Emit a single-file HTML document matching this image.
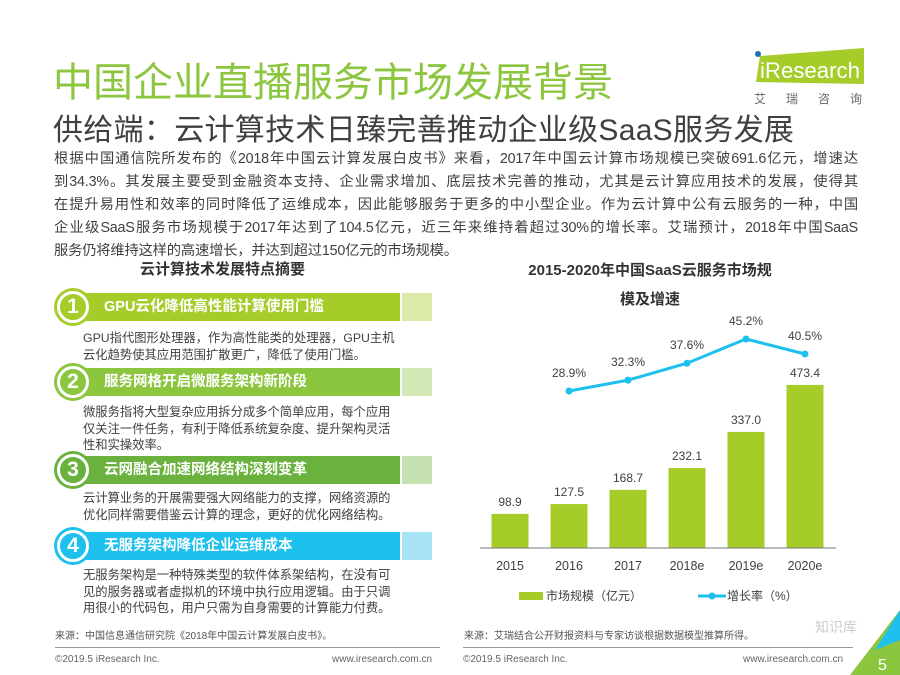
<!DOCTYPE html>
<html><head><meta charset="utf-8"><style>
body{margin:0;width:900px;height:675px;background:#fff;overflow:hidden;position:relative;font-family:"Liberation Sans","Noto Sans CJK SC",sans-serif;color:#404040}
.a{position:absolute;white-space:nowrap}
.bar{position:absolute;left:85px;width:315px;height:28px}
.sq{position:absolute;left:402px;width:30px;height:28px}
.circ{position:absolute;left:57px;width:26px;height:26px;border-radius:50%;border:3px solid #fff;font-weight:bold;font-size:21px;text-align:center;line-height:26px;color:#fff}
.bt{position:absolute;left:104px;font-size:14.5px;font-weight:bold;color:#fff;line-height:28px}
.desc{position:absolute;left:83px;font-size:12.3px;line-height:16.5px;color:#404040;white-space:nowrap}
.pl{position:absolute;left:54px;width:804px;font-size:14.3px;color:#404040;white-space:nowrap;text-align:justify;text-align-last:justify;letter-spacing:-0.2px}
</style></head><body>
<div class="a" style="left:53px;top:50px;font-size:40px;color:#8cc63f">中国企业直播服务市场发展背景</div>
<div style="position:absolute;left:752px;top:48px;width:112px;height:36px">
<svg width="112" height="36"><polygon points="8,8 112,0 112,36 4,34" fill="#a6cc2a"/><circle cx="6" cy="6" r="3" fill="#1d6fb8"/><text x="8" y="30" font-size="22" fill="#fff" font-family="Liberation Sans" textLength="100" lengthAdjust="spacingAndGlyphs">iResearch</text></svg></div>
<div class="a" style="left:754px;top:90px;font-size:12px;color:#666;letter-spacing:20px">艾瑞咨询</div>
<div class="a" style="left:53px;top:105px;font-size:30px;color:#404040;letter-spacing:0.3px">供给端：云计算技术日臻完善推动企业级SaaS服务发展</div>
<div>
<div class="pl" style="top:147px">根据中国通信院所发布的《2018年中国云计算发展白皮书》来看，2017年中国云计算市场规模已突破691.6亿元，增速达</div>
<div class="pl" style="top:170px">到34.3%。其发展主要受到金融资本支持、企业需求增加、底层技术完善的推动，尤其是云计算应用技术的发展，使得其</div>
<div class="pl" style="top:193px">在提升易用性和效率的同时降低了运维成本，因此能够服务于更多的中小型企业。作为云计算中公有云服务的一种，中国</div>
<div class="pl" style="top:216px">企业级SaaS服务市场规模于2017年达到了104.5亿元，近三年来维持着超过30%的增长率。艾瑞预计，2018年中国SaaS</div>
<div class="pl" style="top:239px;text-align-last:left;width:auto">服务仍将维持这样的高速增长，并达到超过150亿元的市场规模。</div>
</div>
<div class="a" style="left:140px;top:258px;font-size:15px;font-weight:bold;color:#333">云计算技术发展特点摘要</div>

<div class="bar" style="top:293px;background:#a6cc2a"></div><div class="sq" style="top:293px;background:#dbeaa8"></div>
<div class="circ" style="top:291px;background:#a6cc2a;box-shadow:0 0 0 3px #a6cc2a">1</div>
<div class="bt" style="top:293px">GPU云化降低高性能计算使用门槛</div>
<div class="desc" style="top:330px">GPU指代图形处理器，作为高性能类的处理器，GPU主机<br>云化趋势使其应用范围扩散更广，降低了使用门槛。</div>

<div class="bar" style="top:368px;background:#8cc63f"></div><div class="sq" style="top:368px;background:#d2e8b5"></div>
<div class="circ" style="top:366px;background:#8cc63f;box-shadow:0 0 0 3px #8cc63f">2</div>
<div class="bt" style="top:368px">服务网格开启微服务架构新阶段</div>
<div class="desc" style="top:404px">微服务指将大型复杂应用拆分成多个简单应用，每个应用<br>仅关注一件任务，有利于降低系统复杂度、提升架构灵活<br>性和实操效率。</div>

<div class="bar" style="top:456px;background:#6ab23d"></div><div class="sq" style="top:456px;background:#c6e2b0"></div>
<div class="circ" style="top:454px;background:#6ab23d;box-shadow:0 0 0 3px #6ab23d">3</div>
<div class="bt" style="top:456px">云网融合加速网络结构深刻变革</div>
<div class="desc" style="top:490px">云计算业务的开展需要强大网络能力的支撑，网络资源的<br>优化同样需要借鉴云计算的理念，更好的优化网络结构。</div>

<div class="bar" style="top:532px;background:#1ec0ee"></div><div class="sq" style="top:532px;background:#a8e4f6"></div>
<div class="circ" style="top:530px;background:#1ec0ee;box-shadow:0 0 0 3px #1ec0ee">4</div>
<div class="bt" style="top:532px">无服务架构降低企业运维成本</div>
<div class="desc" style="top:567px">无服务架构是一种特殊类型的软件体系架结构，在没有可<br>见的服务器或者虚拟机的环境中执行应用逻辑。由于只调<br>用很小的代码包，用户只需为自身需要的计算能力付费。</div>

<div class="a" style="left:490px;top:256px;width:320px;text-align:center;font-size:15px;font-weight:bold;color:#333;line-height:29px;white-space:normal">2015-2020年中国SaaS云服务市场规<br>模及增速</div>
<svg id="chart" style="position:absolute;left:0;top:0" width="900" height="675"></svg>

<div class="a" style="left:55px;top:627px;font-size:10px;color:#555">来源：中国信息通信研究院《2018年中国云计算发展白皮书》。</div>
<div class="a" style="left:464px;top:627px;font-size:10px;color:#555">来源：艾瑞结合公开财报资料与专家访谈根据数据模型推算所得。</div>
<div style="position:absolute;left:55px;top:647px;width:385px;height:1px;background:#999"></div>
<div style="position:absolute;left:463px;top:647px;width:390px;height:1px;background:#999"></div>
<div class="a" style="left:55px;top:654px;font-size:10px;color:#666">©2019.5 iResearch Inc.</div>
<div class="a" style="left:332px;top:654px;font-size:10px;color:#666">www.iresearch.com.cn</div>
<div class="a" style="left:463px;top:654px;font-size:10px;color:#666">©2019.5 iResearch Inc.</div>
<div class="a" style="left:743px;top:654px;font-size:10px;color:#666">www.iresearch.com.cn</div>
<svg style="position:absolute;left:850px;top:610px" width="50" height="65"><polygon points="50,0 50,65 0,65" fill="#8cc63f"/><polygon points="50,0 50,30 25,40" fill="#1ec0ee"/><text x="28" y="60" font-size="16" fill="#fff" font-family="Liberation Sans">5</text></svg>
<div class="a" style="left:815px;top:617px;font-size:14px;color:#ccc">知识库</div>

<script>
const years=["2015","2016","2017","2018e","2019e","2020e"];
const market=[98.9,127.5,168.7,232.1,337.0,473.4];
const growth=[null,28.9,32.3,37.6,45.2,40.5];
const svg=document.getElementById('chart');
const NS='http://www.w3.org/2000/svg';
const base=548,x0=510,dx=59,bw=37;
const xp=i=>x0+i*dx;
const yb=v=>base-v*0.3445;
const yl=v=>391-(v-28.9)*3.19;
function mk(t,a){const e=document.createElementNS(NS,t);for(const k in a)e.setAttribute(k,a[k]);svg.appendChild(e);return e;}
market.forEach((v,i)=>{
 const r=mk('rect',{x:xp(i)-bw/2,y:yb(v),width:bw,height:base-yb(v),fill:'#a6cc2a'});
 
 
 const t=mk('text',{x:xp(i),y:yb(v)-8,'text-anchor':'middle','font-size':12,fill:'#404040','font-family':'Liberation Sans'});t.textContent=v.toFixed(1);
 
 
 const y=mk('text',{x:xp(i),y:570,'text-anchor':'middle','font-size':12.5,fill:'#404040','font-family':'Liberation Sans'});y.textContent=years[i];
 
 
});
const ax=mk('line',{x1:480,x2:836,y1:548,y2:548,stroke:'#777','stroke-width':1});


let pts=[];growth.forEach((v,i)=>{if(v!=null)pts.push(xp(i)+','+yl(v));});
const pl=mk('polyline',{points:pts.join(' '),fill:'none',stroke:'#1ec0ee','stroke-width':3});


growth.forEach((v,i)=>{if(v==null)return;
 const c=mk('circle',{cx:xp(i),cy:yl(v),r:3.5,fill:'#1ec0ee'});
 
 
 const t=mk('text',{x:xp(i),y:yl(v)-14,'text-anchor':'middle','font-size':12,fill:'#404040','font-family':'Liberation Sans'});t.textContent=v.toFixed(1)+'%';
 
 
});
const lb=mk('rect',{x:519,y:592,width:24,height:8,fill:'#a6cc2a'});


const lt=mk('text',{x:546,y:600,'font-size':12,fill:'#404040','font-family':'Liberation Sans, Noto Sans CJK SC, sans-serif'});lt.textContent='市场规模（亿元）';


const ll=mk('line',{x1:698,x2:726,y1:596,y2:596,stroke:'#1ec0ee','stroke-width':3});


mk('circle',{cx:712,cy:596,r:3.5,fill:'#1ec0ee'});
const lt2=mk('text',{x:727,y:600,'font-size':12,fill:'#404040','font-family':'Liberation Sans, Noto Sans CJK SC, sans-serif'});lt2.textContent='增长率（%）';


</script>
</body></html>
